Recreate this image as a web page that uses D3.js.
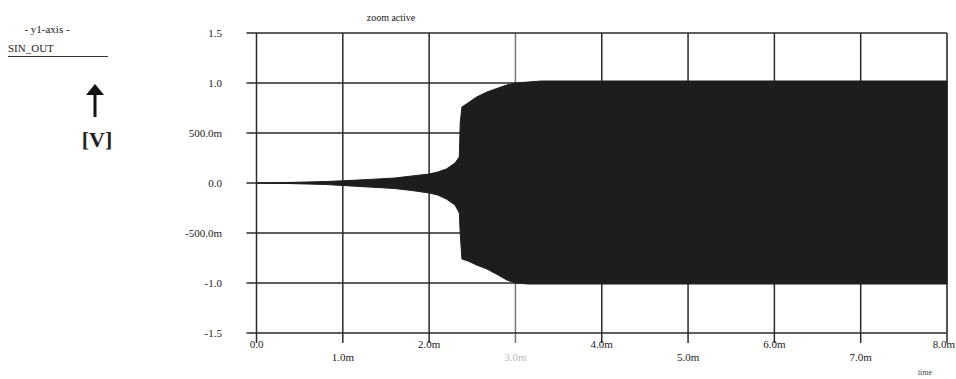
<!DOCTYPE html>
<html><head><meta charset="utf-8">
<script src="https://cdn.jsdelivr.net/npm/d3@7"></script>
<style>
html,body{margin:0;padding:0;background:#fff;}
svg{display:block;}
</style></head>
<body>
<svg id="c" width="956" height="379" font-family="Liberation Serif, DejaVu Serif, serif"></svg>
<script>
// Envelope of the SIN_OUT oscillation (time in ms, volts)
const timeMs = [0, 0.3, 0.5, 0.8, 1.0, 1.3, 1.6, 1.8, 2.0, 2.1, 2.2, 2.3, 2.35, 2.36, 2.38, 2.45, 2.55, 2.67, 2.8, 2.9, 3.0, 3.15, 3.3, 4.0, 5.0, 6.0, 7.0, 8.0];
const upperEnv = [0, 0.004, 0.008, 0.015, 0.022, 0.035, 0.05, 0.07, 0.09, 0.11, 0.14, 0.2, 0.26, 0.6, 0.76, 0.8, 0.86, 0.91, 0.95, 0.98, 1.0, 1.01, 1.02, 1.02, 1.02, 1.02, 1.02, 1.02];
const lowerEnv = [0, -0.004, -0.008, -0.015, -0.025, -0.04, -0.055, -0.075, -0.1, -0.12, -0.16, -0.22, -0.3, -0.5, -0.76, -0.78, -0.82, -0.86, -0.92, -0.97, -1.0, -1.01, -1.01, -1.01, -1.01, -1.01, -1.01, -1.01];
const yTicks = [1.5, 1.0, 0.5, 0.0, -0.5, -1.0, -1.5];
const yTickLabels = ["1.5", "1.0", "500.0m", "0.0", "-500.0m", "-1.0", "-1.5"];
const xTicks = [0, 1, 2, 3, 4, 5, 6, 7, 8];
const xTickLabels = ["0.0", "1.0m", "2.0m", "3.0m", "4.0m", "5.0m", "6.0m", "7.0m", "8.0m"];

const svg = d3.select("#c");
const L = 256.5, R = 947, T = 33, B = 333;
const x = d3.scaleLinear().domain([0, 8]).range([L, R]);
const y = d3.scaleLinear().domain([-1.5, 1.5]).range([B, T]);
const ink = "#1f1c1d";

// grid
svg.append("g").selectAll("line").data(xTicks).join("line")
  .attr("x1", d => x(d)).attr("x2", d => x(d)).attr("y1", T).attr("y2", B + 10)
  .attr("stroke", (d, i) => i === 3 ? "#777" : "#2a2a2a").attr("stroke-width", 1.5);
svg.append("g").selectAll("line").data(yTicks).join("line")
  .attr("x1", L - 10).attr("x2", R).attr("y1", d => y(d)).attr("y2", d => y(d))
  .attr("stroke", "#2a2a2a").attr("stroke-width", 1.5);
// right border
svg.append("line").attr("x1", R).attr("x2", R).attr("y1", T).attr("y2", B)
  .attr("stroke", "#555").attr("stroke-width", 2);

// waveform envelope
const pts = timeMs.map((t, i) => ({t, u: upperEnv[i], l: lowerEnv[i]}));
svg.append("path").datum(pts)
  .attr("d", d3.area().x(d => x(d.t)).y0(d => y(d.l)).y1(d => y(d.u)))
  .attr("fill", ink).attr("stroke", ink).attr("stroke-width", 1);

// y labels
svg.append("g").selectAll("text").data(yTicks).join("text")
  .attr("x", 222).attr("y", d => y(d) + 3.5).attr("text-anchor", "end")
  .attr("font-size", 11).attr("fill", "#222")
  .text((d, i) => yTickLabels[i]);
// x labels
svg.append("g").selectAll("text").data(xTicks).join("text")
  .attr("x", (d, i) => i === 8 ? 955 : x(d)).attr("y", (d, i) => i % 2 === 0 ? 348 : 361)
  .attr("text-anchor", (d, i) => i === 8 ? "end" : "middle").attr("font-size", 11)
  .attr("fill", (d, i) => i === 3 ? "#bbb" : "#222")
  .text((d, i) => xTickLabels[i]);

// title and axis name
svg.append("text").attr("x", 391).attr("y", 21).attr("text-anchor", "middle")
  .attr("font-size", 10).attr("fill", "#222").text("zoom active");
svg.append("text").attr("x", 925).attr("y", 375).attr("text-anchor", "middle")
  .attr("font-size", 8).attr("fill", "#444").text("time");

// left legend
svg.append("text").attr("x", 47).attr("y", 33).attr("text-anchor", "middle")
  .attr("font-size", 11).attr("fill", "#222").text("- y1-axis -");
svg.append("text").attr("x", 8).attr("y", 52)
  .attr("font-size", 11).attr("fill", "#222").text("SIN_OUT");
svg.append("line").attr("x1", 8).attr("x2", 108).attr("y1", 56.5).attr("y2", 56.5)
  .attr("stroke", "#333").attr("stroke-width", 1);
svg.append("line").attr("x1", 95).attr("x2", 95).attr("y1", 92).attr("y2", 117)
  .attr("stroke", "#111").attr("stroke-width", 3);
svg.append("path").attr("d", "M86,95 L95,84 L104,95 Z").attr("fill", "#111");
svg.append("text").attr("x", 97).attr("y", 147).attr("text-anchor", "middle")
  .attr("font-size", 22).attr("font-weight", "bold").attr("fill", "#222").text("[V]");
</script>
</body></html>
